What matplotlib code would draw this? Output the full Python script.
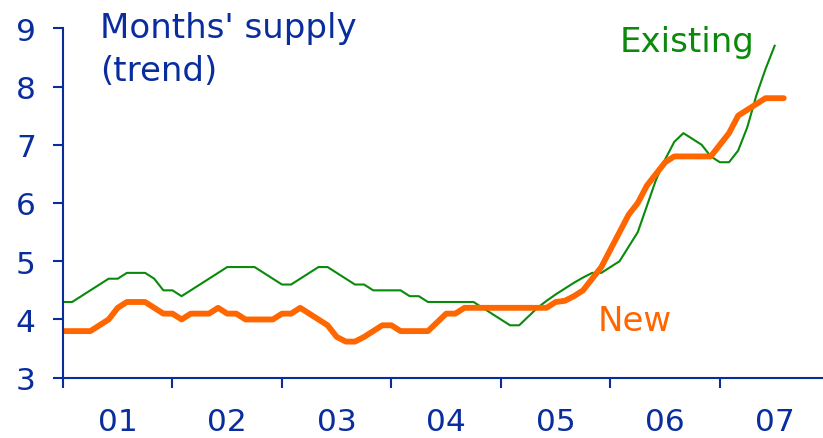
# Months' supply of new and existing homes (trend), 2001-2007

import numpy as np
from matplotlib import pyplot as plt

plt.rcParams['font.family'] = 'DejaVu Sans'

# monthly values starting Jan 2001
new_supply = [3.8, 3.8, 3.8, 3.8, 3.9, 4.0, 4.2, 4.3, 4.3, 4.3, 4.2, 4.1,
              4.1, 4.0, 4.1, 4.1, 4.1, 4.2, 4.1, 4.1, 4.0, 4.0, 4.0, 4.0,
              4.1, 4.1, 4.2, 4.1, 4.0, 3.9, 3.7, 3.62, 3.62, 3.7, 3.8, 3.9,
              3.9, 3.8, 3.8, 3.8, 3.8, 3.95, 4.1, 4.1, 4.2, 4.2, 4.2, 4.2,
              4.2, 4.2, 4.2, 4.2, 4.2, 4.2, 4.3, 4.32, 4.4, 4.5, 4.7, 4.9,
              5.2, 5.5, 5.8, 6.0, 6.3, 6.5, 6.7, 6.8, 6.8, 6.8, 6.8, 6.8,
              7.0, 7.2, 7.5, 7.6, 7.7, 7.8, 7.8, 7.8]
existing_supply = [4.3, 4.3, 4.4, 4.5, 4.6, 4.7, 4.7, 4.8, 4.8, 4.8, 4.7, 4.5,
                   4.5, 4.4, 4.5, 4.6, 4.7, 4.8, 4.9, 4.9, 4.9, 4.9, 4.8, 4.7,
                   4.6, 4.6, 4.7, 4.8, 4.9, 4.9, 4.8, 4.7, 4.6, 4.6, 4.5, 4.5,
                   4.5, 4.5, 4.4, 4.4, 4.3, 4.3, 4.3, 4.3, 4.3, 4.3, 4.2, 4.1,
                   4.0, 3.9, 3.9, 4.05, 4.2, 4.32, 4.43, 4.53, 4.63, 4.72, 4.8, 4.8,
                   4.9, 5.0, 5.25, 5.5, 5.95, 6.4, 6.75, 7.05, 7.2, 7.1, 7.0, 6.8,
                   6.7, 6.7, 6.9, 7.3, 7.85, 8.3, 8.7]
year_labels = ["01", "02", "03", "04", "05", "06", "07"]

blue = "#0a2d9e"
orange = "#ff6600"
green = "#0a8a0a"

fig = plt.figure(figsize=(8.23, 4.39), dpi=100)
ax = fig.add_axes([63 / 823, 1 - 378.7 / 439, 1 - 63 / 823, (378.7 - 29.3) / 439])

ax.plot(np.arange(len(existing_supply)), existing_supply, color=green, lw=1.5)
ax.plot(np.arange(len(new_supply)), new_supply, color=orange, lw=4.2,
        solid_capstyle='round', solid_joinstyle='round')

ax.set_xlim(0, 83.3)
ax.set_ylim(3, 9)
ax.set_yticks(range(3, 10))

ax.set_xticks(np.arange(0, 84, 12))
ax.set_xticklabels([])
ax.set_xticks(np.arange(6, 84, 12), minor=True)
ax.set_xticklabels(year_labels, minor=True)

for s in ['top', 'right']:
    ax.spines[s].set_visible(False)
for s in ['left', 'bottom']:
    ax.spines[s].set_color(blue)
    ax.spines[s].set_linewidth(1.5)

ax.tick_params(axis='y', which='major', direction='out', length=7.5, width=1.5,
               color=blue, labelcolor=blue, labelsize=22.5, pad=12)
ax.tick_params(axis='x', which='major', direction='out', length=7.5, width=1.5,
               color=blue)
ax.tick_params(axis='x', which='minor', length=0, labelcolor=blue,
               labelsize=22.5, pad=21)

fig.text(100 / 823, 1 - 38 / 439, "Months' supply", color=blue,
         fontsize=24.5, ha='left', va='baseline')
fig.text(100 / 823, 1 - 81 / 439, "(trend)", color=blue,
         fontsize=24.5, ha='left', va='baseline')
fig.text(620 / 823, 1 - 52 / 439, "Existing", color=green, fontsize=24.5,
         ha='left', va='baseline')
fig.text(598 / 823, 1 - 331 / 439, "New", color=orange, fontsize=24.5,
         ha='left', va='baseline')

plt.savefig("out.png", dpi=100)
